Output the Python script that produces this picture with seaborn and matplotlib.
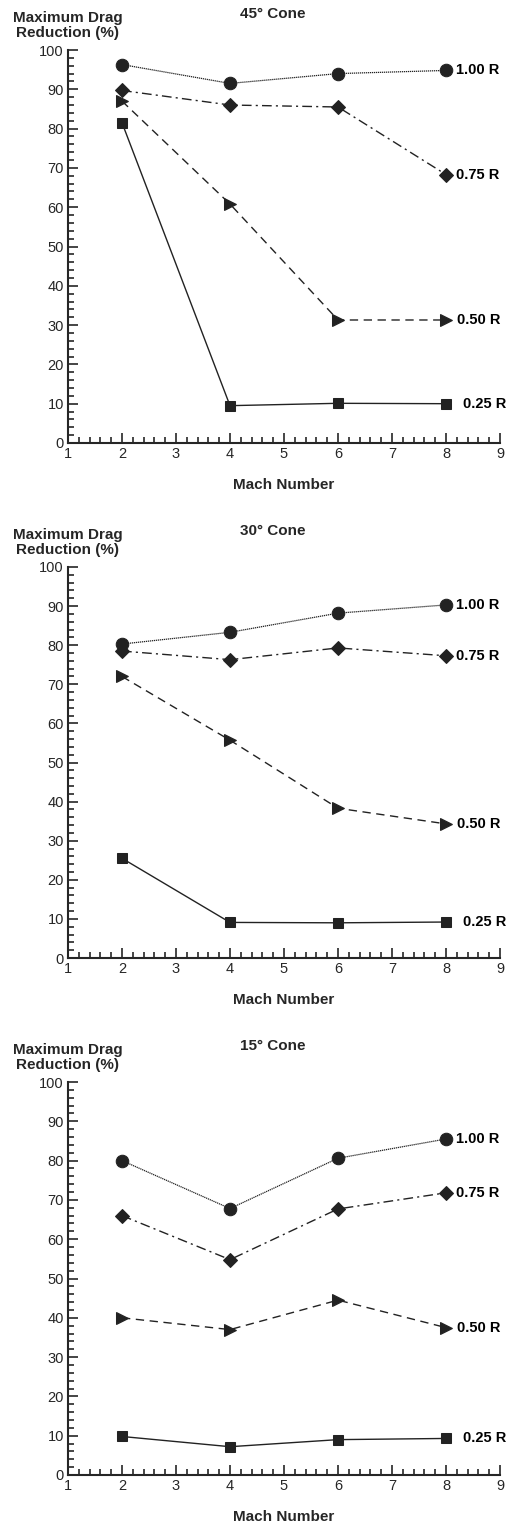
import matplotlib
matplotlib.use("Agg")
import matplotlib.pyplot as plt
import seaborn as sns
from matplotlib.ticker import MultipleLocator

sns.set_style("ticks")
plt.rcParams['font.family'] = ['Liberation Sans', 'DejaVu Sans']

mach = [2, 4, 6, 8]
cones = ["45° Cone", "30° Cone", "15° Cone"]
series = ["1.00 R", "0.75 R", "0.50 R", "0.25 R"]

# drag reduction (%) per cone, per series
cone45 = {"1.00 R": [96.3, 91.5, 94.0, 94.8],
          "0.75 R": [89.7, 86.0, 85.5, 68.3],
          "0.50 R": [87.0, 60.8, 31.3, 31.3],
          "0.25 R": [81.5, 9.5, 10.1, 10.0]}
cone30 = {"1.00 R": [80.3, 83.3, 88.2, 90.3],
          "0.75 R": [78.5, 76.3, 79.3, 77.3],
          "0.50 R": [72.0, 55.7, 38.3, 34.3],
          "0.25 R": [25.5, 9.1, 9.0, 9.2]}
cone15 = {"1.00 R": [80.0, 67.8, 80.6, 85.5],
          "0.75 R": [66.0, 54.8, 67.7, 71.8],
          "0.50 R": [40.0, 37.0, 44.5, 37.5],
          "0.25 R": [9.8, 7.2, 9.0, 9.3]}
all_data = [cone45, cone30, cone15]

styles = {"1.00 R": dict(marker="o", ms=9, ls=(0, (1, 0.6)), lw=0.9),
          "0.75 R": dict(marker="D", ms=7, ls=(0, (7, 3, 1.5, 3)), lw=1.0),
          "0.50 R": dict(marker=">", ms=8.5, ls=(0, (6, 4)), lw=1.0),
          "0.25 R": dict(marker="s", ms=7, ls="-", lw=1.0)}
label_dx = {"1.00 R": 7, "0.75 R": 7, "0.50 R": 8, "0.25 R": 12}

col = "#222222"
fig = plt.figure(figsize=(5.12, 15.21), dpi=100)
H = 1521.0
tops = [50, 567, 1082]
bots = [443, 958, 1475]

for i, (name, data) in enumerate(zip(cones, all_data)):
    ax = fig.add_axes([68 / 512, 1 - bots[i] / H, 432 / 512, (bots[i] - tops[i]) / H])
    for s in series:
        st = styles[s]
        sns.lineplot(x=mach, y=data[s], ax=ax, color=col, marker=st["marker"],
                     markersize=st["ms"], markeredgecolor=col, linestyle=st["ls"],
                     linewidth=st["lw"], clip_on=False)
        ax.annotate(s, xy=(mach[-1], data[s][-1]), xytext=(label_dx[s], 0),
                    textcoords="offset points", ha="left", va="center",
                    fontsize=10.5, fontweight="bold", color="black")
    ax.set_xlim(1, 9)
    ax.set_ylim(0, 100)
    ax.xaxis.set_major_locator(MultipleLocator(1))
    ax.xaxis.set_minor_locator(MultipleLocator(0.2))
    ax.yaxis.set_major_locator(MultipleLocator(10))
    ax.yaxis.set_minor_locator(MultipleLocator(2))
    ax.tick_params(which="both", direction="in", width=1.2, labelsize=10.5, pad=3)
    ax.tick_params(which="major", length=7)
    ax.tick_params(which="minor", length=4)
    for sp in ["top", "right"]:
        ax.spines[sp].set_visible(False)
    for sp in ["left", "bottom"]:
        ax.spines[sp].set_linewidth(1.5)
    ax.set_xlabel("Mach Number", fontsize=11, fontweight="bold", labelpad=12)
    ax.set_ylabel("")
    ax.annotate("Maximum Drag\nReduction (%)", xy=(0, 1), xycoords="axes fraction",
                xytext=(0, 7), textcoords="offset points", ha="center", va="bottom",
                fontsize=11, fontweight="bold", linespacing=1.1)
    ax.annotate(name, xy=(0.475, 1), xycoords="axes fraction",
                xytext=(0, 21), textcoords="offset points", ha="center", va="bottom",
                fontsize=11, fontweight="bold")

fig.savefig("out.png", dpi=100)
